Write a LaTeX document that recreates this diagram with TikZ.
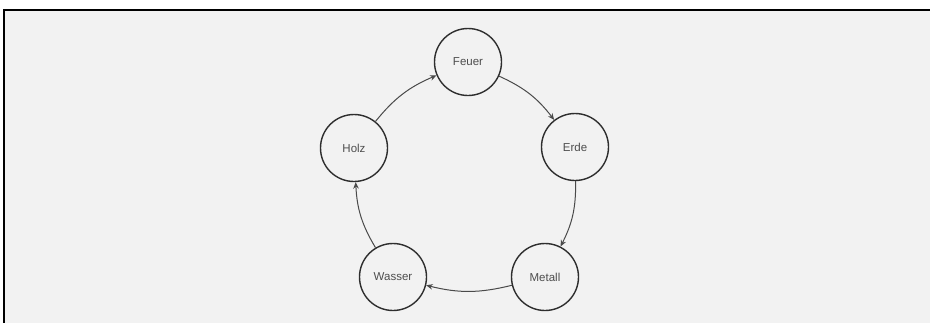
\documentclass[tikz,border=0pt]{standalone}
\usepackage{fontspec}
\setmainfont{Liberation Sans}
\usetikzlibrary{arrows.meta}
\definecolor{WXFrame}{HTML}{000000}
\definecolor{WXBack}{HTML}{F2F2F2}
\definecolor{WXRing}{HTML}{2E2E2E}
\definecolor{WXArrow}{HTML}{4A4A4A}

\begin{document}
\begin{tikzpicture}[x=1pt,y=-1pt,
  element/.style={circle,draw=WXRing,line width=1.4pt,minimum size=67pt,inner sep=0pt,
    font=\fontsize{11.5}{12}\selectfont,text=WXRing!85},
  cycle/.style={draw=WXArrow,line width=1pt,-{Stealth[length=6.5pt,width=5.5pt]},bend left=14}]
\path[use as bounding box] (0,0) rectangle (930,322);
\fill[white] (0,0) rectangle (930,322);
\fill[WXBack] (3.5,9.5) rectangle (940,330);
\draw[WXFrame,line width=2pt] (940,9.5) -- (3.5,9.5) -- (3.5,330);
% the five elements
\node[element] (feuer) at (468,62) {Feuer};
\node[element] (erde) at (575,147) {Erde};
\node[element] (metall) at (545,277) {Metall};
\node[element] (wasser) at (393,277) {Wasser};
\node[element] (holz) at (354,148) {Holz};
% generating cycle
\draw[cycle] (holz) to (feuer);
\draw[cycle] (feuer) to (erde);
\draw[cycle] (erde) to (metall);
\draw[cycle] (metall) to (wasser);
\draw[cycle] (wasser) to (holz);
\end{tikzpicture}
\end{document}
